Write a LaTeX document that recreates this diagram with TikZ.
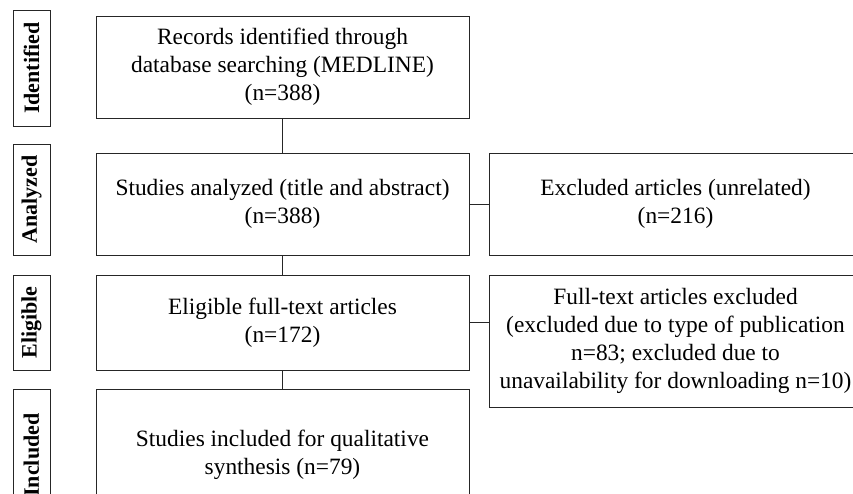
\documentclass[tikz,border=0pt]{standalone}
\usepackage{fontspec}
\setmainfont{Liberation Serif}
\begin{document}
\begin{tikzpicture}[x=1pt,y=-1pt,
  box/.style={draw=black!85,line width=0.9pt,align=center,inner sep=0pt,
    font=\fontsize{23.4}{28}\selectfont,minimum width=373pt},
  lab/.style={draw=black!85,line width=0.9pt,rotate=90,inner sep=0pt,
    font=\fontsize{22}{28}\selectfont\bfseries,minimum height=37pt},
  link/.style={draw=black!85,line width=0.9pt}]
\useasboundingbox (0,0) rectangle (853,494);
\clip (0,0) rectangle (853,494);
% stage labels
\node[lab,minimum width=116pt] (L1) at (31.5,68) {Identified};
\node[lab,minimum width=111pt] (L2) at (31.5,199.5) {Analyzed};
\node[lab,minimum width=95pt] (L3) at (31.5,322.5) {Eligible};
\node[lab,minimum width=132pt] (L4) at (31.5,455) {Included};
% main column
\node[box,minimum height=102pt] (M1) at (282.5,67) {Records identified through\\database searching (MEDLINE)\\(n=388)};
\node[box,minimum height=102pt] (M2) at (282.5,204) {Studies analyzed (title and abstract)\\(n=388)};
\node[box,minimum height=95pt] (M3) at (282.5,322.5) {Eligible full-text articles\\(n=172)};
\node[box,minimum height=132pt] (M4) at (282.5,455) {Studies included for qualitative\\synthesis (n=79)};
% exclusion column
\node[box,minimum height=102pt] (R1) at (675.5,204) {Excluded articles (unrelated)\\(n=216)};
\node[box,minimum height=132pt] (R2) at (675.5,341) {Full-text articles excluded\\(excluded due to type of publication\\n=83; excluded due to\\unavailability for downloading n=10)};
% connectors
\draw[link] (M1.south) -- (M2.north);
\draw[link] (M2.south) -- (M3.north);
\draw[link] (M3.south) -- (M4.north);
\draw[link] (M2.east) -- (R1.west);
\draw[link] (M3.east) -- (M3.east -| R2.west);
\end{tikzpicture}
\end{document}
